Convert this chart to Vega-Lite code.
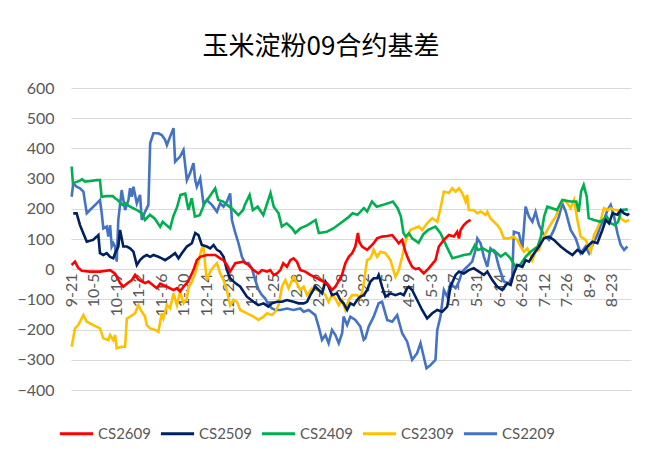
{
  "$schema": "https://vega.github.io/schema/vega-lite/v6.json",
  "width": 560,
  "height": 302,
  "autosize": {"type": "none"},
  "padding": {"left": 71, "top": 88, "right": 14, "bottom": 74},
  "background": "white",
  "title": {"text": "玉米淀粉09合约基差", "font": "Noto Sans CJK SC", "fontSize": 26, "fontWeight": "normal", "color": "#000000", "anchor": "middle", "dx": -30, "offset": 20},
  "config": {"view": {"stroke": null}},
  "datasets": {
    "r": [
      {"s":"CS2609","d":0.4,"v":14},{"s":"CS2609","d":2.5,"v":25},{"s":"CS2609","d":4.4,"v":5},{"s":"CS2609","d":6.7,"v":-5},{"s":"CS2609","d":11.8,"v":-8},{"s":"CS2609","d":18,"v":-8},{"s":"CS2609","d":21.8,"v":-5},{"s":"CS2609","d":24.3,"v":-3},{"s":"CS2609","d":27.4,"v":-15},{"s":"CS2609","d":30.5,"v":-46},{"s":"CS2609","d":32.5,"v":-58},{"s":"CS2609","d":34.7,"v":-48},{"s":"CS2609","d":37.8,"v":-36},{"s":"CS2609","d":39.8,"v":-19},{"s":"CS2609","d":41.9,"v":-35},{"s":"CS2609","d":46,"v":-46},{"s":"CS2609","d":48.1,"v":-41},{"s":"CS2609","d":53.3,"v":-63},{"s":"CS2609","d":55.4,"v":-48},{"s":"CS2609","d":59.6,"v":-58},{"s":"CS2609","d":63.7,"v":-69},{"s":"CS2609","d":65.8,"v":-63},{"s":"CS2609","d":67.8,"v":-74},{"s":"CS2609","d":69.9,"v":-58},{"s":"CS2609","d":72.8,"v":-41},{"s":"CS2609","d":76.1,"v":-3},{"s":"CS2609","d":78.2,"v":30},{"s":"CS2609","d":80.3,"v":41},{"s":"CS2609","d":84.4,"v":47},{"s":"CS2609","d":89.6,"v":47},{"s":"CS2609","d":92.7,"v":36},{"s":"CS2609","d":94.8,"v":30},{"s":"CS2609","d":96.9,"v":14},{"s":"CS2609","d":98.9,"v":-8},{"s":"CS2609","d":102.1,"v":20},{"s":"CS2609","d":107,"v":25},{"s":"CS2609","d":110.3,"v":14},{"s":"CS2609","d":113.4,"v":-3},{"s":"CS2609","d":116.4,"v":-14},{"s":"CS2609","d":118.7,"v":-3},{"s":"CS2609","d":121.8,"v":-8},{"s":"CS2609","d":123.8,"v":-3},{"s":"CS2609","d":125.9,"v":-19},{"s":"CS2609","d":128,"v":-14},{"s":"CS2609","d":130.1,"v":-3},{"s":"CS2609","d":131.9,"v":20},{"s":"CS2609","d":134.2,"v":8},{"s":"CS2609","d":136.3,"v":30},{"s":"CS2609","d":138.3,"v":36},{"s":"CS2609","d":140.4,"v":25},{"s":"CS2609","d":142.5,"v":-3},{"s":"CS2609","d":145.6,"v":-8},{"s":"CS2609","d":148.7,"v":-19},{"s":"CS2609","d":152.9,"v":-30},{"s":"CS2609","d":156.8,"v":-41},{"s":"CS2609","d":159.1,"v":-47},{"s":"CS2609","d":162.2,"v":-69},{"s":"CS2609","d":164.3,"v":-58},{"s":"CS2609","d":166.1,"v":-41},{"s":"CS2609","d":168.4,"v":-19},{"s":"CS2609","d":170.5,"v":20},{"s":"CS2609","d":172.6,"v":41},{"s":"CS2609","d":174.7,"v":53},{"s":"CS2609","d":176.7,"v":75},{"s":"CS2609","d":178.3,"v":120},{"s":"CS2609","d":179.2,"v":90},{"s":"CS2609","d":180.9,"v":75},{"s":"CS2609","d":184,"v":64},{"s":"CS2609","d":186.1,"v":75},{"s":"CS2609","d":188.1,"v":86},{"s":"CS2609","d":190.2,"v":102},{"s":"CS2609","d":193.3,"v":108},{"s":"CS2609","d":196.5,"v":110},{"s":"CS2609","d":199.6,"v":113},{"s":"CS2609","d":201.6,"v":100},{"s":"CS2609","d":203.7,"v":86},{"s":"CS2609","d":205.8,"v":97},{"s":"CS2609","d":207.8,"v":58},{"s":"CS2609","d":209.9,"v":30},{"s":"CS2609","d":212,"v":8},{"s":"CS2609","d":214.1,"v":0},{"s":"CS2609","d":216.1,"v":3},{"s":"CS2609","d":219.2,"v":-14},{"s":"CS2609","d":222.3,"v":3},{"s":"CS2609","d":226.5,"v":30},{"s":"CS2609","d":228.6,"v":75},{"s":"CS2609","d":231.7,"v":97},{"s":"CS2609","d":234.8,"v":113},{"s":"CS2609","d":237.9,"v":108},{"s":"CS2609","d":240,"v":124},{"s":"CS2609","d":241.1,"v":102},{"s":"CS2609","d":242.1,"v":130},{"s":"CS2609","d":244.1,"v":146},{"s":"CS2609","d":246.2,"v":157},{"s":"CS2609","d":248.3,"v":163}
    ],
    "n": [
      {"s":"CS2509","d":1.4,"v":185},{"s":"CS2509","d":3.5,"v":185},{"s":"CS2509","d":5.6,"v":146},{"s":"CS2509","d":7.7,"v":118},{"s":"CS2509","d":9.8,"v":91},{"s":"CS2509","d":13.7,"v":97},{"s":"CS2509","d":16,"v":108},{"s":"CS2509","d":17,"v":113},{"s":"CS2509","d":18,"v":53},{"s":"CS2509","d":20.1,"v":47},{"s":"CS2509","d":22.2,"v":53},{"s":"CS2509","d":24.3,"v":41},{"s":"CS2509","d":26.3,"v":36},{"s":"CS2509","d":27.4,"v":53},{"s":"CS2509","d":29.4,"v":75},{"s":"CS2509","d":30.5,"v":130},{"s":"CS2509","d":32.5,"v":75},{"s":"CS2509","d":34.7,"v":75},{"s":"CS2509","d":36.7,"v":69},{"s":"CS2509","d":38.8,"v":58},{"s":"CS2509","d":40.9,"v":14},{"s":"CS2509","d":42.9,"v":30},{"s":"CS2509","d":45,"v":41},{"s":"CS2509","d":47.1,"v":47},{"s":"CS2509","d":49.2,"v":41},{"s":"CS2509","d":51.2,"v":47},{"s":"CS2509","d":54.3,"v":41},{"s":"CS2509","d":56.4,"v":36},{"s":"CS2509","d":58.5,"v":30},{"s":"CS2509","d":61.6,"v":41},{"s":"CS2509","d":64.7,"v":53},{"s":"CS2509","d":66.8,"v":36},{"s":"CS2509","d":68.9,"v":53},{"s":"CS2509","d":72,"v":75},{"s":"CS2509","d":75.1,"v":86},{"s":"CS2509","d":77.2,"v":120},{"s":"CS2509","d":79.2,"v":113},{"s":"CS2509","d":81.3,"v":80},{"s":"CS2509","d":84.4,"v":75},{"s":"CS2509","d":86.5,"v":69},{"s":"CS2509","d":88.6,"v":80},{"s":"CS2509","d":90.7,"v":64},{"s":"CS2509","d":92.7,"v":58},{"s":"CS2509","d":94.8,"v":41},{"s":"CS2509","d":96.9,"v":-3},{"s":"CS2509","d":98.9,"v":-30},{"s":"CS2509","d":102.1,"v":-46},{"s":"CS2509","d":105.2,"v":-58},{"s":"CS2509","d":109.3,"v":-91},{"s":"CS2509","d":113.4,"v":-108},{"s":"CS2509","d":116.4,"v":-119},{"s":"CS2509","d":119.7,"v":-113},{"s":"CS2509","d":122.6,"v":-124},{"s":"CS2509","d":124.9,"v":-113},{"s":"CS2509","d":128,"v":-108},{"s":"CS2509","d":131.1,"v":-108},{"s":"CS2509","d":134.2,"v":-102},{"s":"CS2509","d":138.3,"v":-108},{"s":"CS2509","d":141.5,"v":-113},{"s":"CS2509","d":144.6,"v":-113},{"s":"CS2509","d":146.7,"v":-108},{"s":"CS2509","d":148.7,"v":-86},{"s":"CS2509","d":151.8,"v":-58},{"s":"CS2509","d":153.9,"v":-69},{"s":"CS2509","d":156,"v":-80},{"s":"CS2509","d":158.1,"v":-41},{"s":"CS2509","d":160.1,"v":-58},{"s":"CS2509","d":162.2,"v":-86},{"s":"CS2509","d":165.3,"v":-80},{"s":"CS2509","d":167.4,"v":-102},{"s":"CS2509","d":169.4,"v":-113},{"s":"CS2509","d":171.6,"v":-135},{"s":"CS2509","d":173.6,"v":-113},{"s":"CS2509","d":175.7,"v":-119},{"s":"CS2509","d":177.8,"v":-102},{"s":"CS2509","d":179.8,"v":-91},{"s":"CS2509","d":181.9,"v":-86},{"s":"CS2509","d":184,"v":-69},{"s":"CS2509","d":186.1,"v":-41},{"s":"CS2509","d":188.1,"v":-30},{"s":"CS2509","d":190.2,"v":-30},{"s":"CS2509","d":191.2,"v":-19},{"s":"CS2509","d":193.3,"v":-58},{"s":"CS2509","d":195.4,"v":-91},{"s":"CS2509","d":198.5,"v":-80},{"s":"CS2509","d":201.6,"v":-86},{"s":"CS2509","d":204.7,"v":-80},{"s":"CS2509","d":206.8,"v":-86},{"s":"CS2509","d":208.9,"v":-63},{"s":"CS2509","d":209.9,"v":-58},{"s":"CS2509","d":212,"v":-69},{"s":"CS2509","d":215.1,"v":-102},{"s":"CS2509","d":218.2,"v":-135},{"s":"CS2509","d":221.3,"v":-163},{"s":"CS2509","d":224.5,"v":-146},{"s":"CS2509","d":227.6,"v":-135},{"s":"CS2509","d":230.7,"v":-141},{"s":"CS2509","d":233.8,"v":-124},{"s":"CS2509","d":234.8,"v":-91},{"s":"CS2509","d":235.8,"v":-58},{"s":"CS2509","d":239,"v":-19},{"s":"CS2509","d":241.1,"v":-8},{"s":"CS2509","d":244.1,"v":-14},{"s":"CS2509","d":247.2,"v":-3},{"s":"CS2509","d":250.3,"v":3},{"s":"CS2509","d":253.5,"v":-8},{"s":"CS2509","d":256.6,"v":-19},{"s":"CS2509","d":258.7,"v":-8},{"s":"CS2509","d":261.8,"v":-36},{"s":"CS2509","d":264.9,"v":-58},{"s":"CS2509","d":268,"v":-69},{"s":"CS2509","d":271.1,"v":-47},{"s":"CS2509","d":273.2,"v":-52},{"s":"CS2509","d":275.2,"v":-14},{"s":"CS2509","d":277.3,"v":14},{"s":"CS2509","d":280.5,"v":8},{"s":"CS2509","d":282.5,"v":30},{"s":"CS2509","d":284.6,"v":25},{"s":"CS2509","d":287.7,"v":52},{"s":"CS2509","d":290.8,"v":75},{"s":"CS2509","d":293.9,"v":102},{"s":"CS2509","d":297,"v":108},{"s":"CS2509","d":300.1,"v":97},{"s":"CS2509","d":304.3,"v":75},{"s":"CS2509","d":308.5,"v":58},{"s":"CS2509","d":311.6,"v":47},{"s":"CS2509","d":314.7,"v":64},{"s":"CS2509","d":317.8,"v":53},{"s":"CS2509","d":320.9,"v":75},{"s":"CS2509","d":324,"v":91},{"s":"CS2509","d":327.1,"v":86},{"s":"CS2509","d":330.2,"v":130},{"s":"CS2509","d":332.3,"v":163},{"s":"CS2509","d":334.4,"v":152},{"s":"CS2509","d":336.5,"v":185},{"s":"CS2509","d":339.6,"v":180},{"s":"CS2509","d":341.6,"v":196},{"s":"CS2509","d":343.7,"v":185},{"s":"CS2509","d":345.8,"v":180},{"s":"CS2509","d":346.8,"v":185}
    ],
    "g": [
      {"s":"CS2409","d":0.4,"v":340},{"s":"CS2409","d":1.2,"v":285},{"s":"CS2409","d":4,"v":290},{"s":"CS2409","d":5.6,"v":293},{"s":"CS2409","d":6.8,"v":298},{"s":"CS2409","d":8.7,"v":290},{"s":"CS2409","d":12,"v":292},{"s":"CS2409","d":16,"v":295},{"s":"CS2409","d":18,"v":295},{"s":"CS2409","d":19,"v":240},{"s":"CS2409","d":22,"v":242},{"s":"CS2409","d":26,"v":242},{"s":"CS2409","d":27.4,"v":235},{"s":"CS2409","d":29,"v":229},{"s":"CS2409","d":32,"v":213},{"s":"CS2409","d":34,"v":218},{"s":"CS2409","d":36.7,"v":207},{"s":"CS2409","d":41,"v":196},{"s":"CS2409","d":44,"v":185},{"s":"CS2409","d":46,"v":163},{"s":"CS2409","d":49,"v":180},{"s":"CS2409","d":52,"v":168},{"s":"CS2409","d":55.4,"v":141},{"s":"CS2409","d":57,"v":157},{"s":"CS2409","d":61.6,"v":135},{"s":"CS2409","d":63.5,"v":174},{"s":"CS2409","d":66,"v":207},{"s":"CS2409","d":68,"v":246},{"s":"CS2409","d":71,"v":250},{"s":"CS2409","d":73,"v":196},{"s":"CS2409","d":75,"v":235},{"s":"CS2409","d":77,"v":174},{"s":"CS2409","d":80,"v":179},{"s":"CS2409","d":83,"v":218},{"s":"CS2409","d":86,"v":240},{"s":"CS2409","d":89.6,"v":268},{"s":"CS2409","d":91.5,"v":229},{"s":"CS2409","d":94.6,"v":224},{"s":"CS2409","d":97,"v":213},{"s":"CS2409","d":101,"v":196},{"s":"CS2409","d":104,"v":179},{"s":"CS2409","d":107,"v":196},{"s":"CS2409","d":108,"v":213},{"s":"CS2409","d":111,"v":246},{"s":"CS2409","d":113,"v":196},{"s":"CS2409","d":116,"v":207},{"s":"CS2409","d":119.5,"v":179},{"s":"CS2409","d":124,"v":252},{"s":"CS2409","d":126,"v":207},{"s":"CS2409","d":129,"v":185},{"s":"CS2409","d":131,"v":141},{"s":"CS2409","d":134,"v":152},{"s":"CS2409","d":137.5,"v":135},{"s":"CS2409","d":139.4,"v":120},{"s":"CS2409","d":142.5,"v":135},{"s":"CS2409","d":147,"v":146},{"s":"CS2409","d":152,"v":163},{"s":"CS2409","d":154,"v":120},{"s":"CS2409","d":159,"v":124},{"s":"CS2409","d":163,"v":135},{"s":"CS2409","d":167.4,"v":152},{"s":"CS2409","d":171.7,"v":169},{"s":"CS2409","d":175,"v":185},{"s":"CS2409","d":178,"v":180},{"s":"CS2409","d":182,"v":202},{"s":"CS2409","d":184,"v":191},{"s":"CS2409","d":187,"v":224},{"s":"CS2409","d":190,"v":207},{"s":"CS2409","d":194,"v":213},{"s":"CS2409","d":197,"v":218},{"s":"CS2409","d":200,"v":224},{"s":"CS2409","d":203,"v":202},{"s":"CS2409","d":205,"v":174},{"s":"CS2409","d":206.6,"v":120},{"s":"CS2409","d":208,"v":108},{"s":"CS2409","d":210,"v":119},{"s":"CS2409","d":212,"v":102},{"s":"CS2409","d":216,"v":87},{"s":"CS2409","d":219,"v":116},{"s":"CS2409","d":222,"v":130},{"s":"CS2409","d":226.5,"v":141},{"s":"CS2409","d":229.6,"v":119},{"s":"CS2409","d":234,"v":69},{"s":"CS2409","d":237,"v":36},{"s":"CS2409","d":241,"v":42},{"s":"CS2409","d":244,"v":47},{"s":"CS2409","d":248,"v":50},{"s":"CS2409","d":251,"v":80},{"s":"CS2409","d":253,"v":64},{"s":"CS2409","d":256,"v":69},{"s":"CS2409","d":259.5,"v":58},{"s":"CS2409","d":262.6,"v":64},{"s":"CS2409","d":267,"v":42},{"s":"CS2409","d":270,"v":53},{"s":"CS2409","d":273,"v":37},{"s":"CS2409","d":276,"v":10},{"s":"CS2409","d":279,"v":14},{"s":"CS2409","d":282.5,"v":41},{"s":"CS2409","d":285.6,"v":58},{"s":"CS2409","d":290,"v":75},{"s":"CS2409","d":292,"v":108},{"s":"CS2409","d":294,"v":174},{"s":"CS2409","d":296,"v":207},{"s":"CS2409","d":299,"v":202},{"s":"CS2409","d":302,"v":196},{"s":"CS2409","d":305.3,"v":229},{"s":"CS2409","d":310.5,"v":224},{"s":"CS2409","d":314,"v":224},{"s":"CS2409","d":315.5,"v":190},{"s":"CS2409","d":317,"v":257},{"s":"CS2409","d":318.6,"v":279},{"s":"CS2409","d":320.5,"v":240},{"s":"CS2409","d":321.7,"v":169},{"s":"CS2409","d":325,"v":163},{"s":"CS2409","d":329,"v":157},{"s":"CS2409","d":333,"v":174},{"s":"CS2409","d":335.5,"v":152},{"s":"CS2409","d":338,"v":146},{"s":"CS2409","d":340,"v":157},{"s":"CS2409","d":342,"v":196},{"s":"CS2409","d":346,"v":198}
    ],
    "y": [
      {"s":"CS2309","d":0.4,"v":-257},{"s":"CS2309","d":2.5,"v":-196},{"s":"CS2309","d":4.5,"v":-185},{"s":"CS2309","d":7.7,"v":-152},{"s":"CS2309","d":9.8,"v":-174},{"s":"CS2309","d":13.9,"v":-185},{"s":"CS2309","d":18,"v":-196},{"s":"CS2309","d":20.1,"v":-229},{"s":"CS2309","d":23.2,"v":-235},{"s":"CS2309","d":24.3,"v":-218},{"s":"CS2309","d":26.3,"v":-235},{"s":"CS2309","d":27.4,"v":-218},{"s":"CS2309","d":28.4,"v":-262},{"s":"CS2309","d":31.5,"v":-257},{"s":"CS2309","d":33.6,"v":-257},{"s":"CS2309","d":34.7,"v":-163},{"s":"CS2309","d":36.7,"v":-157},{"s":"CS2309","d":39.8,"v":-146},{"s":"CS2309","d":41.9,"v":-119},{"s":"CS2309","d":44,"v":-141},{"s":"CS2309","d":46,"v":-157},{"s":"CS2309","d":47.1,"v":-185},{"s":"CS2309","d":49.2,"v":-196},{"s":"CS2309","d":52.3,"v":-201},{"s":"CS2309","d":54.3,"v":-207},{"s":"CS2309","d":56.4,"v":-146},{"s":"CS2309","d":57.4,"v":-163},{"s":"CS2309","d":59.6,"v":-119},{"s":"CS2309","d":61.6,"v":-130},{"s":"CS2309","d":63.7,"v":-80},{"s":"CS2309","d":65.8,"v":-119},{"s":"CS2309","d":67.8,"v":-74},{"s":"CS2309","d":69.9,"v":-113},{"s":"CS2309","d":72,"v":-97},{"s":"CS2309","d":73,"v":-63},{"s":"CS2309","d":75.1,"v":-41},{"s":"CS2309","d":77.2,"v":-14},{"s":"CS2309","d":79.2,"v":25},{"s":"CS2309","d":81.3,"v":69},{"s":"CS2309","d":82.3,"v":75},{"s":"CS2309","d":83.4,"v":14},{"s":"CS2309","d":84.4,"v":-36},{"s":"CS2309","d":86.5,"v":-8},{"s":"CS2309","d":88.6,"v":8},{"s":"CS2309","d":90.7,"v":20},{"s":"CS2309","d":92.7,"v":-14},{"s":"CS2309","d":94.8,"v":-36},{"s":"CS2309","d":96.9,"v":-69},{"s":"CS2309","d":97.9,"v":-96},{"s":"CS2309","d":98.9,"v":-119},{"s":"CS2309","d":101,"v":-102},{"s":"CS2309","d":103.1,"v":-108},{"s":"CS2309","d":105.2,"v":-135},{"s":"CS2309","d":109.3,"v":-146},{"s":"CS2309","d":113.4,"v":-157},{"s":"CS2309","d":116.5,"v":-168},{"s":"CS2309","d":119.7,"v":-157},{"s":"CS2309","d":121.8,"v":-146},{"s":"CS2309","d":124.9,"v":-152},{"s":"CS2309","d":126.9,"v":-141},{"s":"CS2309","d":129,"v":-119},{"s":"CS2309","d":131.1,"v":-58},{"s":"CS2309","d":133.2,"v":-36},{"s":"CS2309","d":135.2,"v":-63},{"s":"CS2309","d":138.3,"v":-25},{"s":"CS2309","d":140.4,"v":-47},{"s":"CS2309","d":142.5,"v":-69},{"s":"CS2309","d":144.6,"v":-58},{"s":"CS2309","d":146.7,"v":-86},{"s":"CS2309","d":149.8,"v":-63},{"s":"CS2309","d":152.9,"v":-69},{"s":"CS2309","d":156,"v":-74},{"s":"CS2309","d":158.1,"v":-86},{"s":"CS2309","d":160.1,"v":-108},{"s":"CS2309","d":162.2,"v":-86},{"s":"CS2309","d":164.3,"v":-97},{"s":"CS2309","d":166.4,"v":-119},{"s":"CS2309","d":168.5,"v":-102},{"s":"CS2309","d":170.5,"v":-135},{"s":"CS2309","d":172.6,"v":-102},{"s":"CS2309","d":174.7,"v":-86},{"s":"CS2309","d":177.8,"v":-86},{"s":"CS2309","d":179.8,"v":-97},{"s":"CS2309","d":180.9,"v":-75},{"s":"CS2309","d":181.9,"v":-47},{"s":"CS2309","d":184,"v":30},{"s":"CS2309","d":186.1,"v":36},{"s":"CS2309","d":188.1,"v":64},{"s":"CS2309","d":190.2,"v":41},{"s":"CS2309","d":192.3,"v":58},{"s":"CS2309","d":195.4,"v":53},{"s":"CS2309","d":198.5,"v":30},{"s":"CS2309","d":201.6,"v":-25},{"s":"CS2309","d":203.7,"v":-3},{"s":"CS2309","d":205.8,"v":41},{"s":"CS2309","d":207.8,"v":91},{"s":"CS2309","d":210.9,"v":130},{"s":"CS2309","d":213,"v":135},{"s":"CS2309","d":216.1,"v":141},{"s":"CS2309","d":218.2,"v":130},{"s":"CS2309","d":221.3,"v":152},{"s":"CS2309","d":224.5,"v":169},{"s":"CS2309","d":227.6,"v":157},{"s":"CS2309","d":229.6,"v":202},{"s":"CS2309","d":231.7,"v":257},{"s":"CS2309","d":234.8,"v":252},{"s":"CS2309","d":236.9,"v":268},{"s":"CS2309","d":239,"v":257},{"s":"CS2309","d":241.1,"v":268},{"s":"CS2309","d":243.1,"v":252},{"s":"CS2309","d":245.2,"v":224},{"s":"CS2309","d":246.2,"v":246},{"s":"CS2309","d":247.2,"v":196},{"s":"CS2309","d":250.3,"v":196},{"s":"CS2309","d":252.5,"v":185},{"s":"CS2309","d":254.5,"v":191},{"s":"CS2309","d":257.6,"v":180},{"s":"CS2309","d":258.7,"v":190},{"s":"CS2309","d":260.7,"v":168},{"s":"CS2309","d":262.8,"v":157},{"s":"CS2309","d":264.9,"v":146},{"s":"CS2309","d":267,"v":130},{"s":"CS2309","d":269,"v":102},{"s":"CS2309","d":272.1,"v":102},{"s":"CS2309","d":275.2,"v":108},{"s":"CS2309","d":277.3,"v":97},{"s":"CS2309","d":279.4,"v":75},{"s":"CS2309","d":281.5,"v":58},{"s":"CS2309","d":283.6,"v":69},{"s":"CS2309","d":285.6,"v":47},{"s":"CS2309","d":286.7,"v":30},{"s":"CS2309","d":288.7,"v":58},{"s":"CS2309","d":290.8,"v":64},{"s":"CS2309","d":292.9,"v":97},{"s":"CS2309","d":296,"v":130},{"s":"CS2309","d":299.1,"v":157},{"s":"CS2309","d":301.2,"v":174},{"s":"CS2309","d":304.3,"v":218},{"s":"CS2309","d":306.4,"v":229},{"s":"CS2309","d":308.5,"v":218},{"s":"CS2309","d":310.5,"v":202},{"s":"CS2309","d":312.6,"v":229},{"s":"CS2309","d":314.7,"v":163},{"s":"CS2309","d":316.7,"v":108},{"s":"CS2309","d":319.8,"v":97},{"s":"CS2309","d":323,"v":58},{"s":"CS2309","d":325,"v":113},{"s":"CS2309","d":327.1,"v":135},{"s":"CS2309","d":329.2,"v":163},{"s":"CS2309","d":331.2,"v":202},{"s":"CS2309","d":333.4,"v":196},{"s":"CS2309","d":335.4,"v":202},{"s":"CS2309","d":337.5,"v":196},{"s":"CS2309","d":339.6,"v":196},{"s":"CS2309","d":341.6,"v":168},{"s":"CS2309","d":344.7,"v":157},{"s":"CS2309","d":346.8,"v":163}
    ],
    "b": [
      {"s":"CS2209","d":0.4,"v":240},{"s":"CS2209","d":1.4,"v":284},{"s":"CS2209","d":3.5,"v":273},{"s":"CS2209","d":5.6,"v":268},{"s":"CS2209","d":7.7,"v":257},{"s":"CS2209","d":9.8,"v":185},{"s":"CS2209","d":11.8,"v":196},{"s":"CS2209","d":16,"v":218},{"s":"CS2209","d":18,"v":229},{"s":"CS2209","d":19.1,"v":185},{"s":"CS2209","d":20.1,"v":135},{"s":"CS2209","d":22.2,"v":141},{"s":"CS2209","d":23.2,"v":108},{"s":"CS2209","d":24.3,"v":146},{"s":"CS2209","d":25.3,"v":75},{"s":"CS2209","d":26.3,"v":86},{"s":"CS2209","d":27.4,"v":75},{"s":"CS2209","d":28.4,"v":25},{"s":"CS2209","d":29.4,"v":163},{"s":"CS2209","d":31.5,"v":262},{"s":"CS2209","d":33.6,"v":196},{"s":"CS2209","d":35.7,"v":229},{"s":"CS2209","d":36.7,"v":268},{"s":"CS2209","d":37.8,"v":240},{"s":"CS2209","d":38.8,"v":273},{"s":"CS2209","d":40.9,"v":218},{"s":"CS2209","d":42.9,"v":246},{"s":"CS2209","d":44,"v":163},{"s":"CS2209","d":46,"v":190},{"s":"CS2209","d":48.1,"v":213},{"s":"CS2209","d":49.2,"v":417},{"s":"CS2209","d":51.2,"v":450},{"s":"CS2209","d":54.3,"v":450},{"s":"CS2209","d":56.4,"v":444},{"s":"CS2209","d":58.5,"v":428},{"s":"CS2209","d":59.6,"v":411},{"s":"CS2209","d":61.6,"v":439},{"s":"CS2209","d":63.7,"v":467},{"s":"CS2209","d":64.7,"v":356},{"s":"CS2209","d":67.8,"v":373},{"s":"CS2209","d":69.9,"v":395},{"s":"CS2209","d":72,"v":295},{"s":"CS2209","d":74,"v":318},{"s":"CS2209","d":76.1,"v":351},{"s":"CS2209","d":77.2,"v":295},{"s":"CS2209","d":78.2,"v":273},{"s":"CS2209","d":80.3,"v":301},{"s":"CS2209","d":82.3,"v":218},{"s":"CS2209","d":84.4,"v":229},{"s":"CS2209","d":87.6,"v":213},{"s":"CS2209","d":90.7,"v":190},{"s":"CS2209","d":92.7,"v":218},{"s":"CS2209","d":94.8,"v":207},{"s":"CS2209","d":96.9,"v":224},{"s":"CS2209","d":98.9,"v":251},{"s":"CS2209","d":100,"v":163},{"s":"CS2209","d":102.1,"v":120},{"s":"CS2209","d":104.1,"v":86},{"s":"CS2209","d":106.2,"v":41},{"s":"CS2209","d":108.3,"v":20},{"s":"CS2209","d":110.3,"v":20},{"s":"CS2209","d":112.4,"v":3},{"s":"CS2209","d":114.5,"v":-36},{"s":"CS2209","d":116.6,"v":-69},{"s":"CS2209","d":118.7,"v":-86},{"s":"CS2209","d":120.7,"v":-97},{"s":"CS2209","d":122.8,"v":-119},{"s":"CS2209","d":124.9,"v":-130},{"s":"CS2209","d":126.9,"v":-135},{"s":"CS2209","d":130.1,"v":-135},{"s":"CS2209","d":134.2,"v":-130},{"s":"CS2209","d":138.3,"v":-135},{"s":"CS2209","d":142.5,"v":-130},{"s":"CS2209","d":144.6,"v":-141},{"s":"CS2209","d":147.7,"v":-135},{"s":"CS2209","d":151.8,"v":-152},{"s":"CS2209","d":153.9,"v":-190},{"s":"CS2209","d":156,"v":-234},{"s":"CS2209","d":158.1,"v":-218},{"s":"CS2209","d":160.1,"v":-245},{"s":"CS2209","d":162.2,"v":-201},{"s":"CS2209","d":164.3,"v":-218},{"s":"CS2209","d":166.4,"v":-245},{"s":"CS2209","d":168.5,"v":-212},{"s":"CS2209","d":169.4,"v":-157},{"s":"CS2209","d":171.6,"v":-185},{"s":"CS2209","d":173.6,"v":-157},{"s":"CS2209","d":176.7,"v":-168},{"s":"CS2209","d":179.8,"v":-190},{"s":"CS2209","d":181.9,"v":-234},{"s":"CS2209","d":182.9,"v":-229},{"s":"CS2209","d":185,"v":-190},{"s":"CS2209","d":188.1,"v":-157},{"s":"CS2209","d":191.2,"v":-113},{"s":"CS2209","d":193.3,"v":-108},{"s":"CS2209","d":196.5,"v":-168},{"s":"CS2209","d":199.6,"v":-174},{"s":"CS2209","d":202.7,"v":-152},{"s":"CS2209","d":205.8,"v":-212},{"s":"CS2209","d":208.9,"v":-240},{"s":"CS2209","d":212,"v":-300},{"s":"CS2209","d":215.1,"v":-278},{"s":"CS2209","d":217.2,"v":-245},{"s":"CS2209","d":219.2,"v":-290},{"s":"CS2209","d":220.9,"v":-328},{"s":"CS2209","d":223.3,"v":-318},{"s":"CS2209","d":226.5,"v":-300},{"s":"CS2209","d":227.6,"v":-201},{"s":"CS2209","d":229.6,"v":-157},{"s":"CS2209","d":231.7,"v":-69},{"s":"CS2209","d":233.8,"v":-91},{"s":"CS2209","d":235.8,"v":-47},{"s":"CS2209","d":239,"v":-63},{"s":"CS2209","d":241.1,"v":-41},{"s":"CS2209","d":243.1,"v":-8},{"s":"CS2209","d":246.2,"v":8},{"s":"CS2209","d":249.3,"v":25},{"s":"CS2209","d":251.4,"v":64},{"s":"CS2209","d":252.5,"v":102},{"s":"CS2209","d":254.5,"v":86},{"s":"CS2209","d":256.6,"v":41},{"s":"CS2209","d":258.7,"v":8},{"s":"CS2209","d":260.7,"v":69},{"s":"CS2209","d":263.8,"v":52},{"s":"CS2209","d":265.9,"v":8},{"s":"CS2209","d":269,"v":-41},{"s":"CS2209","d":272.1,"v":-47},{"s":"CS2209","d":274.2,"v":-25},{"s":"CS2209","d":275.2,"v":124},{"s":"CS2209","d":278.3,"v":119},{"s":"CS2209","d":280.5,"v":69},{"s":"CS2209","d":282.5,"v":207},{"s":"CS2209","d":284.6,"v":174},{"s":"CS2209","d":286.7,"v":157},{"s":"CS2209","d":288.7,"v":190},{"s":"CS2209","d":290.8,"v":146},{"s":"CS2209","d":293.9,"v":113},{"s":"CS2209","d":297,"v":97},{"s":"CS2209","d":300.1,"v":130},{"s":"CS2209","d":303.2,"v":174},{"s":"CS2209","d":305.3,"v":218},{"s":"CS2209","d":307.4,"v":191},{"s":"CS2209","d":310.5,"v":130},{"s":"CS2209","d":313.6,"v":102},{"s":"CS2209","d":316.7,"v":53},{"s":"CS2209","d":319.8,"v":75},{"s":"CS2209","d":321.9,"v":53},{"s":"CS2209","d":325,"v":91},{"s":"CS2209","d":327.1,"v":113},{"s":"CS2209","d":329.2,"v":146},{"s":"CS2209","d":331.2,"v":163},{"s":"CS2209","d":333.4,"v":196},{"s":"CS2209","d":335.4,"v":213},{"s":"CS2209","d":337.5,"v":174},{"s":"CS2209","d":339.6,"v":119},{"s":"CS2209","d":341.6,"v":80},{"s":"CS2209","d":343.7,"v":64},{"s":"CS2209","d":345.8,"v":75}
    ]
  },
  "encoding": {
    "x": {"field": "d", "type": "quantitative", "scale": {"domain": [0, 348], "nice": false, "zero": false},
          "axis": {"title": null, "values": [0,14,28,42,56,70,84,98,112,126,140,154,168,182,196,210,224,238,252,266,280,294,308,322,336],
                   "labelExpr": "timeFormat(datetime(2022, 8, 21 + datum.value), '%-m-%-d')",
                   "labelAngle": -90, "labelAlign": "right", "labelBaseline": "middle", "labelPadding": 4,
                   "offset": -121, "domain": false, "ticks": false, "grid": false,
                   "labelFont": "Lato", "labelFontSize": 16, "labelColor": "#595959", "labelOverlap": false, "labelFlush": false, "labelBound": false}},
    "y": {"field": "v", "type": "quantitative", "scale": {"domain": [-400, 600], "nice": false},
          "axis": {"title": null, "values": [-400,-300,-200,-100,0,100,200,300,400,500,600], "domain": false, "ticks": false,
                   "gridColor": "#D9D9D9", "gridWidth": 1.2, "labelPadding": 17, "labelOverlap": false,
                   "labelFont": "Lato", "labelFontSize": 16, "labelColor": "#595959"}},
    "color": {"field": "s", "type": "nominal",
              "scale": {"domain": ["CS2609","CS2509","CS2409","CS2309","CS2209"], "range": ["#FF0000","#002060","#00B050","#FFC000","#4472C4"]},
              "legend": {"title": null, "orient": "none", "direction": "horizontal", "legendX": -13, "legendY": 327,
                         "symbolType": "stroke", "symbolSize": 1100, "symbolStrokeWidth": 3, "labelFont": "Lato", "labelFontSize": 15,
                         "labelColor": "#595959", "labelOffset": 3, "columnPadding": 3}}
  },
  "layer": [
    {"data": {"name": "b"}, "mark": {"type": "line", "strokeWidth": 2.6}},
    {"data": {"name": "y"}, "mark": {"type": "line", "strokeWidth": 2.6}},
    {"data": {"name": "g"}, "mark": {"type": "line", "strokeWidth": 2.6}},
    {"data": {"name": "n"}, "mark": {"type": "line", "strokeWidth": 2.6}},
    {"data": {"name": "r"}, "mark": {"type": "line", "strokeWidth": 2.6}}
  ]
}
